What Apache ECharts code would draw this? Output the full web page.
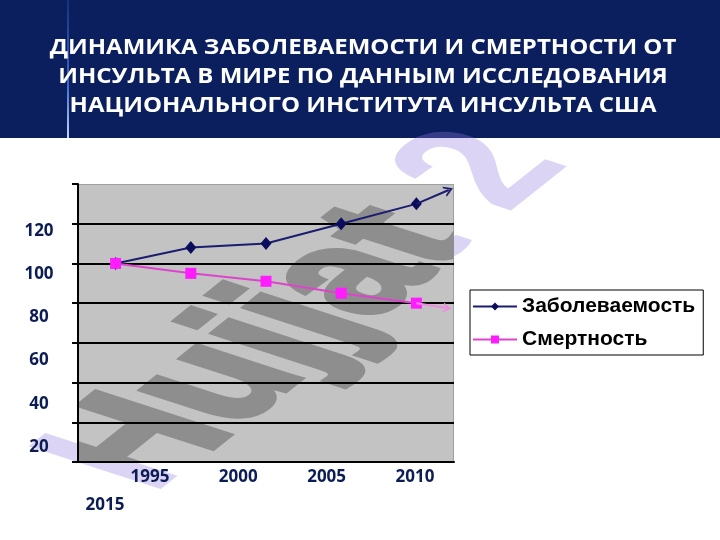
<!DOCTYPE html>
<html><head><meta charset="utf-8">
<script src="https://cdn.jsdelivr.net/npm/echarts@6/dist/echarts.min.js"></script>
<style>html,body{margin:0;padding:0;background:#fff}#c{width:720px;height:540px}</style>
</head><body><div id="c"></div>
<script>
// ---- data ----
const titleLines = ['ДИНАМИКА ЗАБОЛЕВАЕМОСТИ И СМЕРТНОСТИ ОТ', 'ИНСУЛЬТА В МИРЕ ПО ДАННЫМ ИССЛЕДОВАНИЯ', 'НАЦИОНАЛЬНОГО ИНСТИТУТА ИНСУЛЬТА США'];
const seriesNames = ['Заболеваемость', 'Смертность'];
const pointIndex = [1, 2, 3, 4, 5];
const incidence = [100, 108, 110, 120, 130];
const mortality = [100, 95, 91, 85, 80];
const incidenceTrendEnd = [5.43, 137];
const mortalityTrendEnd = [5.41, 77.5];
const yTickValues = [20, 40, 60, 80, 100, 120];
const xTickValues = [1995, 2000, 2005, 2010];
const xTickExtra = '2015';
const watermarkText = 'Hujjat 2';

// ---- layout helpers ----
const NAVY_TEXT = '#0c1c54';
const LABEL_FONT = '"Open Sans", "Noto Sans", sans-serif';
function watermark(fill, z, strokeWidth) {
  const deg = Math.PI / 180;
  const adv = 38.5 * deg, down = 18 * deg, sx = 1.48, sy = 2.02;
  const a = sx * Math.cos(adv), c = -sx * Math.sin(adv);
  const b = sy * Math.cos(down), d = sy * Math.sin(down);
  const E = (a + d) / 2, F = (a - d) / 2, G = (c + b) / 2, H = (c - b) / 2;
  const Q = Math.hypot(E, H), R = Math.hypot(F, G);
  const a1 = Math.atan2(G, F), a2 = Math.atan2(H, E);
  const theta = (a2 - a1) / 2, phi = (a2 + a1) / 2;
  const style = { text: watermarkText, font: 'bold 100px "Liberation Sans", Arial, sans-serif', fill: fill, align: 'left', verticalAlign: 'middle' };
  if (strokeWidth) { style.stroke = fill; style.lineWidth = strokeWidth; style.lineJoin = 'round'; }
  const g = {
    type: 'group', x: 100, y: 478, rotation: -phi, scaleX: Q + R, scaleY: Q - R,
    children: [{ type: 'text', rotation: -theta, style: style }]
  };
  if (z !== undefined) { g.z = z; g.children[0].z = z; }
  return g;
}
const chevron = 'path://M0,10 L5,0 L10,10 L8.2,10 L5,3.8 L1.8,10 Z';

const chart = echarts.init(document.getElementById('c'), null, { renderer: 'canvas' });
chart.setOption({
  animation: false,
  backgroundColor: '#ffffff',
  grid: { left: 78, right: 266, top: 184, bottom: 78, show: false, containLabel: false, outerBoundsMode: 'none' },
  graphic: [
    { type: 'rect', z: -6, shape: { x: 0, y: 0, width: 720, height: 138 }, style: { fill: '#0b1f5e' } },
    { type: 'line', z: -5, shape: { x1: 68, y1: 0, x2: 68, y2: 138 },
      style: { lineWidth: 2, stroke: new echarts.graphic.LinearGradient(0, 0, 0, 1, [
        { offset: 0, color: '#15307a' }, { offset: 0.6, color: '#3a6ad0' }, { offset: 1, color: '#c8dcff' }]) } },
    { type: 'text', z: -4, x: 363, y: 33, scaleX: 1.09,
      style: { text: titleLines.join('\n'), fill: '#ffffff', font: 'bold 22px "Open Sans", "Noto Sans", sans-serif', align: 'center', verticalAlign: 'top', lineHeight: 29 } },
    watermark('rgba(147,122,225,0.32)', -3, 0),
    { type: 'text', x: 105, y: 505, style: { text: xTickExtra, font: 'bold 17px ' + LABEL_FONT, fill: NAVY_TEXT, align: 'center', verticalAlign: 'middle' } }
  ],
  legend: {
    data: seriesNames, orient: 'vertical', left: 470, top: 290,
    itemWidth: 44, itemHeight: 10, itemGap: 12, padding: [6, 8, 5, 2],
    backgroundColor: '#ffffff', borderColor: '#000000', borderWidth: 1, z: 6,
    textStyle: { fontFamily: '"Liberation Sans", Arial, sans-serif', fontWeight: 'bold', fontSize: 21, color: '#000000' }
  },
  xAxis: [
    { type: 'value', min: 0.5, max: 5.5, position: 'bottom',
      axisLine: { show: true, onZero: false, lineStyle: { color: '#000', width: 2 } },
      axisTick: { show: false }, axisLabel: { show: false }, splitLine: { show: false } },
    { type: 'value', min: 1990.93, max: 2012.21, position: 'bottom',
      axisLine: { show: false }, axisTick: { show: false }, splitLine: { show: false },
      axisLabel: { customValues: xTickValues, formatter: v => String(v), margin: 7, color: NAVY_TEXT, fontWeight: 'bold', fontSize: 17, fontFamily: LABEL_FONT } }
  ],
  yAxis: [
    { type: 'value', min: 0, max: 140, interval: 20,
      axisLine: { show: true, lineStyle: { color: '#000', width: 2 } },
      axisTick: { show: true, length: 6, lineStyle: { color: '#000', width: 2 } },
      axisLabel: { show: false },
      splitLine: { show: true, showMaxLine: false, lineStyle: { color: '#000', width: 2 } } },
    { type: 'value', min: 13.06, max: 141.76, position: 'left',
      axisLine: { show: false }, axisTick: { show: false }, splitLine: { show: false },
      axisLabel: { customValues: yTickValues, formatter: v => String(v), align: 'center', margin: 39, color: NAVY_TEXT, fontWeight: 'bold', fontSize: 17, fontFamily: LABEL_FONT } }
  ],
  series: [
    { type: 'custom', name: 'plotBackground', silent: true, clip: true, z: -2,
      data: [[1, 0]],
      renderItem: function (params) {
        const cs = params.coordSys;
        return { type: 'group', children: [
          { type: 'rect', shape: { x: cs.x, y: cs.y, width: cs.width, height: cs.height }, style: { fill: '#c3c3c3', stroke: '#a0a0a0', lineWidth: 2 } },
          watermark('#8e8e8e', undefined, 4)
        ] };
      } },
    { name: seriesNames[0], type: 'line', z: 3,
      data: pointIndex.map((x, i) => [x, incidence[i]]),
      symbol: 'diamond', symbolSize: [11, 13],
      itemStyle: { color: '#0c0c5c' }, lineStyle: { color: '#1c1c70', width: 2 },
      markLine: { silent: true, symbol: ['none', chevron], symbolSize: [11, 9], label: { show: false },
        lineStyle: { color: '#1c1c70', width: 2, type: 'solid' },
        data: [[{ coord: [pointIndex[4], incidence[4]] }, { coord: incidenceTrendEnd }]] } },
    { name: seriesNames[1], type: 'line', z: 3,
      data: pointIndex.map((x, i) => [x, mortality[i]]),
      symbol: 'rect', symbolSize: 11,
      itemStyle: { color: '#ff1cff' }, lineStyle: { color: '#dd44cc', width: 2 },
      markLine: { silent: true, symbol: ['none', chevron], symbolSize: [10, 8], label: { show: false },
        lineStyle: { color: '#f08ce0', width: 2, type: 'solid' },
        data: [[{ coord: [pointIndex[4], mortality[4]] }, { coord: mortalityTrendEnd }]] } }
  ]
});
</script></body></html>
